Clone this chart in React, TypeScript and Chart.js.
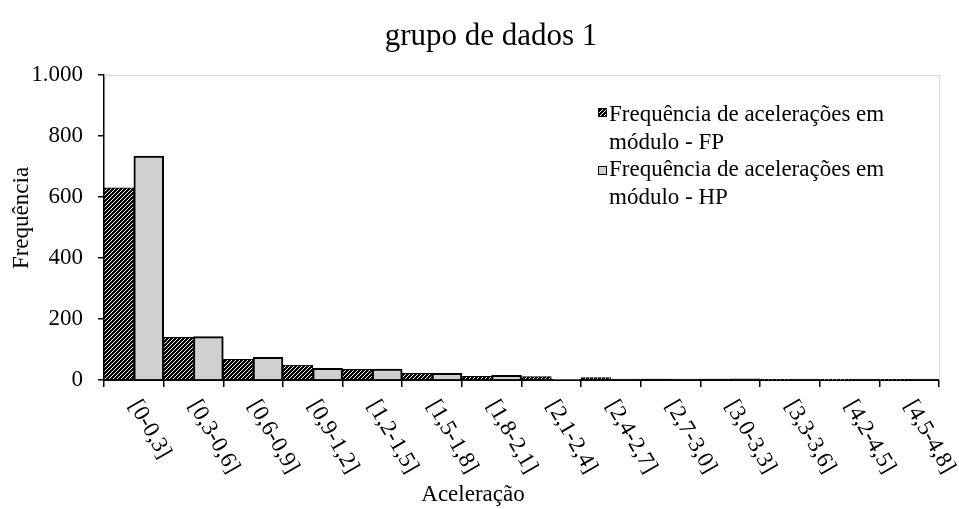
import React, { useEffect, useRef } from 'react';
import { Chart, registerables } from 'chart.js';

Chart.register(...registerables);

const categories = ['[0-0,3]', '[0,3-0,6]', '[0,6-0,9]', '[0,9-1,2]', '[1,2-1,5]', '[1,5-1,8]', '[1,8-2,1]', '[2,1-2,4]', '[2,4-2,7]', '[2,7-3,0]', '[3,0-3,3]', '[3,3-3,6]', '[4,2-4,5]', '[4,5-4,8]'];
const fpValues = [630, 140, 68, 49, 35, 22, 12, 11, 8, 3, 3, 2, 1, 2];
const hpValues = [734, 142, 74, 38, 36, 22, 15, 2, 3, 3, 4, 3, 3, 3];
const seriesNames = ['Frequência de acelerações em módulo - FP', 'Frequência de acelerações em módulo - HP'];
const yTickLabels = ['0', '200', '400', '600', '800', '1.000'];
const chartTitle = 'grupo de dados 1';
const xTitle = 'Aceleração';
const yTitle = 'Frequência';

const FAMILY = "'Liberation Serif', 'Times New Roman', serif";
const HP_FILL = '#d0d0d0';

function makeHatch(ctx: CanvasRenderingContext2D): CanvasPattern | string {
  const c = document.createElement('canvas');
  c.width = 4;
  c.height = 4;
  const g = c.getContext('2d');
  if (!g) return '#000';
  g.fillStyle = '#000';
  g.fillRect(0, 0, 4, 4);
  g.strokeStyle = '#ffffff';
  g.lineWidth = 1;
  g.beginPath();
  g.moveTo(0, 4); g.lineTo(4, 0);
  g.moveTo(-1, 1); g.lineTo(1, -1);
  g.moveTo(3, 5); g.lineTo(5, 3);
  g.stroke();
  return ctx.createPattern(c, 'repeat') || '#000';
}

function wrap(ctx: CanvasRenderingContext2D, text: string, maxW: number): string[] {
  const words = text.split(' ');
  const lines: string[] = [];
  let cur = '';
  for (const w of words) {
    const t = cur ? cur + ' ' + w : w;
    if (ctx.measureText(t).width > maxW && cur) {
      lines.push(cur);
      cur = w;
    } else cur = t;
  }
  if (cur) lines.push(cur);
  return lines;
}

export default function App() {
  const ref = useRef<HTMLCanvasElement | null>(null);
  useEffect(() => {
    document.body.style.margin = '0';
    const canvas = ref.current;
    if (!canvas) return;
    const ctx0 = canvas.getContext('2d') as CanvasRenderingContext2D;
    const hatch = makeHatch(ctx0);

    const decor = {
      id: 'decor',
      afterDraw(chart: any) {
        const ctx: CanvasRenderingContext2D = chart.ctx;
        const area = chart.chartArea;
        const xs = chart.scales.x;
        ctx.save();
        // faint plot border top/right
        ctx.strokeStyle = '#d9d9d9';
        ctx.lineWidth = 1;
        ctx.beginPath();
        ctx.moveTo(area.left, area.top + 0.5);
        ctx.lineTo(area.right + 0.5, area.top + 0.5);
        ctx.lineTo(area.right + 0.5, area.bottom);
        ctx.stroke();

        ctx.fillStyle = '#000';
        // title
        ctx.font = `31px ${FAMILY}`;
        ctx.textAlign = 'center';
        ctx.textBaseline = 'alphabetic';
        ctx.fillText(chartTitle, 491, 45);

        // x labels rotated
        ctx.font = `23px ${FAMILY}`;
        const ang = (60 * Math.PI) / 180;
        categories.forEach((lab, i) => {
          const px = xs.getPixelForValue(i);
          ctx.save();
          ctx.translate(px, area.bottom + 22);
          ctx.rotate(ang);
          ctx.textAlign = 'left';
          ctx.textBaseline = 'middle';
          ctx.fillText(lab, 0, 0);
          ctx.restore();
        });

        // x title
        ctx.textAlign = 'center';
        ctx.textBaseline = 'middle';
        ctx.fillText(xTitle, 473, 495);

        // y title
        ctx.save();
        ctx.translate(22, 218);
        ctx.rotate(-Math.PI / 2);
        ctx.fillText(yTitle, 0, 0);
        ctx.restore();

        // legend
        const lx = 609;
        const baselines = [[121, 148.5], [176, 203.5]];
        const swatchY = [108, 166];
        ctx.textAlign = 'left';
        ctx.textBaseline = 'alphabetic';
        seriesNames.forEach((name, k) => {
          const lines = wrap(ctx, name, 300);
          lines.forEach((ln, j) => {
            const b = baselines[k][j] !== undefined ? baselines[k][j] : baselines[k][0] + 27.5 * j;
            ctx.fillText(ln, lx, b);
          });
          ctx.fillStyle = k === 0 ? (hatch as any) : HP_FILL;
          ctx.fillRect(598, swatchY[k], 9, 9);
          ctx.strokeStyle = '#000';
          ctx.lineWidth = 1;
          ctx.strokeRect(598.5, swatchY[k] + 0.5, 8, 8);
          ctx.fillStyle = '#000';
        });
        ctx.restore();
      },
    };

    const chart = new Chart(canvas, {
      type: 'bar',
      data: {
        labels: categories,
        datasets: [
          {
            label: seriesNames[0],
            data: fpValues,
            backgroundColor: hatch as any,
            borderColor: '#000',
            borderWidth: 1,
            categoryPercentage: 1,
            barPercentage: 1,
          },
          {
            label: seriesNames[1],
            data: hpValues,
            backgroundColor: HP_FILL,
            borderColor: '#000',
            borderWidth: 2,
            categoryPercentage: 1,
            barPercentage: 1,
          },
        ],
      },
      options: {
        responsive: false,
        animation: false,
        layout: { padding: { top: 75, right: 20, left: 0, bottom: 0 } },
        plugins: {
          legend: { display: false },
          title: { display: false },
          tooltip: { enabled: false },
        },
        scales: {
          x: {
            grid: { display: true, offset: true, drawOnChartArea: false, tickLength: 7, color: '#000', lineWidth: 1.5 },
            border: { display: true, color: '#000', width: 2 },
            ticks: { display: false },
            afterFit: (s: any) => { s.height = 129; },
          },
          y: {
            min: 0,
            max: 1000,
            ticks: {
              stepSize: 200,
              color: '#000',
              padding: 15,
              font: { family: FAMILY, size: 23 },
              callback: (_v: any, i: number) => yTickLabels[i],
            },
            grid: { drawOnChartArea: false, tickLength: 6, color: '#000', lineWidth: 1.5 },
            border: { display: true, color: '#000', width: 1.5 },
            afterFit: (s: any) => { s.width = 104; },
          },
        },
      } as any,
      plugins: [decor],
    });
    return () => chart.destroy();
  }, []);

  return (
    <canvas ref={ref} width={959} height={509} style={{ display: 'block', width: 959, height: 509 }} />
  );
}
